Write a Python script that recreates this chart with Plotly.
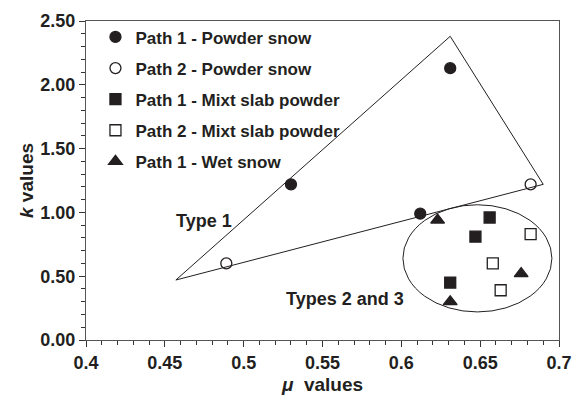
import plotly.graph_objects as go

# ---- data ----
p1_powder_x = [0.530, 0.612, 0.631]
p1_powder_y = [1.22, 0.99, 2.13]
p2_powder_x = [0.489, 0.682]
p2_powder_y = [0.60, 1.22]
p1_slab_x = [0.656, 0.647, 0.631]
p1_slab_y = [0.96, 0.81, 0.45]
p2_slab_x = [0.682, 0.658, 0.663]
p2_slab_y = [0.83, 0.60, 0.39]
p1_wet_x = [0.623, 0.676, 0.631]
p1_wet_y = [0.94, 0.52, 0.30]

type1_x = [0.457, 0.631, 0.690, 0.457]
type1_y = [0.47, 2.38, 1.22, 0.47]

ellipse_x = [0.601, 0.6955]
ellipse_y = [0.22, 1.06]

x_ticks = [0.4, 0.45, 0.5, 0.55, 0.6, 0.65, 0.7]
x_ticklabels = ["0.4", "0.45", "0.5", "0.55", "0.6", "0.65", "0.7"]
y_ticks = [0.0, 0.5, 1.0, 1.5, 2.0, 2.5]
y_ticklabels = ["0.00", "0.50", "1.00", "1.50", "2.00", "2.50"]

INK = "#231f20"
FONT = "Liberation Sans"

fig = go.Figure()

fig.add_trace(go.Scatter(x=type1_x, y=type1_y, mode="lines",
                         line=dict(color=INK, width=1), showlegend=False,
                         hoverinfo="skip"))

series = [
    ("Path 1 - Powder snow", p1_powder_x, p1_powder_y, "circle", 11),
    ("Path 2 - Powder snow", p2_powder_x, p2_powder_y, "circle-open", 11),
    ("Path 1 - Mixt slab powder", p1_slab_x, p1_slab_y, "square", 11),
    ("Path 2 - Mixt slab powder", p2_slab_x, p2_slab_y, "square-open", 11),
    ("Path 1 - Wet snow", p1_wet_x, p1_wet_y, "triangle-up", 12),
]
for i, (name, xs, ys, sym, sz) in enumerate(series):
    fig.add_trace(go.Scatter(
        x=xs, y=ys, mode="markers", name="<b>" + name + "</b>",
        legendgroup="g%d" % i,
        marker=dict(symbol=sym, size=sz, color=INK,
                    line=dict(color=INK, width=1.3)),
    ))

fig.add_shape(type="circle", xref="x", yref="y",
              x0=ellipse_x[0], x1=ellipse_x[1], y0=ellipse_y[0], y1=ellipse_y[1],
              line=dict(color=INK, width=1))

fig.add_annotation(x=0.4748, y=0.93, text="<b>Type 1</b>", showarrow=False,
                   font=dict(family=FONT, size=18, color=INK))
fig.add_annotation(x=0.564, y=0.32, text="<b>Types 2 and 3</b>", showarrow=False,
                   font=dict(family=FONT, size=18, color=INK))

axis_common = dict(
    showgrid=False, zeroline=False, showline=True, linecolor="#555",
    linewidth=1.2, mirror=True, ticks="outside", ticklen=6, tickwidth=1.2,
    tickcolor="#333", automargin=False,
    tickfont=dict(family=FONT, size=18, color=INK, weight="bold"),
)

fig.update_xaxes(
    range=[0.4, 0.7], tickvals=x_ticks, ticktext=x_ticklabels,
    minor=dict(dtick=0.01, ticks="outside", ticklen=4, tickcolor="#333", tickwidth=1),
    title=dict(text="<b><i>μ</i>  values</b>", font=dict(family=FONT, size=19, color=INK),
               standoff=5),
    **axis_common,
)
fig.update_yaxes(
    range=[0, 2.5], tickvals=y_ticks, ticktext=y_ticklabels,
    minor=dict(dtick=0.1, ticks="outside", ticklen=4, tickcolor="#333", tickwidth=1),
    title=dict(text="<b><i>k</i> values</b>", font=dict(family=FONT, size=19, color=INK),
               standoff=1),
    **axis_common,
)

fig.update_layout(
    width=585, height=404,
    margin=dict(l=78, r=34, t=11, b=72),
    paper_bgcolor="white", plot_bgcolor="white",
    legend=dict(x=0.02, y=1.005, xanchor="left", yanchor="top",
                font=dict(family=FONT, size=17, color=INK),
                tracegroupgap=6, bgcolor="rgba(0,0,0,0)", itemwidth=30),
)

fig.write_html("out.html")
